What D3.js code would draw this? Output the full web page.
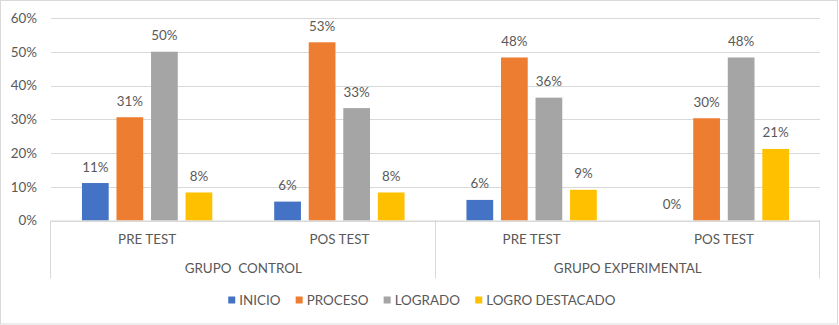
<!DOCTYPE html>
<html>
<head>
<meta charset="utf-8">
<script src="https://cdn.jsdelivr.net/npm/d3@7"></script>
<style>
  body { margin: 0; background: #fff; }
  svg text { font-family: Lato, "Liberation Sans", sans-serif; fill: #595959; }
</style>
</head>
<body>
<script>
// DATA
var groups = ["GRUPO  CONTROL", "GRUPO EXPERIMENTAL"];
var tests = ["PRE TEST", "POS TEST"];
var seriesNames = ["INICIO", "PROCESO", "LOGRADO", "LOGRO DESTACADO"];
var colors = ["#4472C4", "#ED7D31", "#A5A5A5", "#FFC000"];
var inicio = [0.111, 0.056, 0.061, 0.0];
var proceso = [0.306, 0.528, 0.483, 0.303];
var logrado = [0.5, 0.333, 0.364, 0.483];
var logroDestacado = [0.083, 0.083, 0.091, 0.212];
var yTicks = [0, 0.1, 0.2, 0.3, 0.4, 0.5, 0.6];

var svgWidth = 839;
var svgHeight = 325;
var margin = { top: 18, right: 19, bottom: 104.5, left: 51 };
var chartWidth = svgWidth - margin.left - margin.right;
var chartHeight = svgHeight - margin.top - margin.bottom;
var fontSize = "13.4px";

var svg = d3.select("body").append("svg")
  .attr("width", svgWidth)
  .attr("height", svgHeight);

// outer frame
svg.append("rect")
  .attr("x", 0.5).attr("y", 0.5)
  .attr("width", svgWidth - 2).attr("height", svgHeight - 1.5)
  .attr("fill", "#fff").attr("stroke", "#D9D9D9");

var chartGroup = svg.append("g")
  .attr("transform", `translate(${margin.left}, ${margin.top})`);

// categories: one per group/test pair
var categories = [];
groups.forEach(function(g) {
  tests.forEach(function(t) { categories.push(g + "|" + t); });
});
var seriesValues = [inicio, proceso, logrado, logroDestacado];
var data = categories.map(function(c, i) {
  return {
    key: c,
    test: c.split("|")[1],
    values: seriesNames.map(function(s, j) { return { name: s, color: colors[j], value: seriesValues[j][i] }; })
  };
});

// SCALES
var x0 = d3.scaleBand().domain(categories).range([0, chartWidth]).padding(0);
var x1 = d3.scaleBand().domain(seriesNames).range([0, x0.bandwidth()])
  .paddingInner(0.226).paddingOuter(0.896);
var yScale = d3.scaleLinear().domain([0, 0.6]).range([chartHeight, 0]);
var xGroup = d3.scaleBand().domain(groups).range([0, chartWidth]).padding(0);

// GRIDLINES + Y AXIS
var leftAxis = d3.axisLeft(yScale).tickValues(yTicks)
  .tickFormat(d3.format(".0%"))
  .tickSize(-chartWidth).tickPadding(14);
var yAxisG = chartGroup.append("g").call(leftAxis);
yAxisG.select(".domain").remove();
yAxisG.selectAll(".tick line").attr("stroke", "#D9D9D9").attr("shape-rendering", "crispEdges");
yAxisG.selectAll(".tick text").style("font-size", fontSize).attr("fill", "#595959");

// BARS
var catG = chartGroup.selectAll(".cat")
  .data(data).enter().append("g")
  .attr("transform", d => `translate(${x0(d.key)},0)`);

catG.selectAll("rect")
  .data(d => d.values).enter().append("rect")
  .attr("x", d => x1(d.name))
  .attr("y", d => yScale(d.value))
  .attr("width", x1.bandwidth())
  .attr("height", d => chartHeight - yScale(d.value))
  .attr("fill", d => d.color);

// DATA LABELS
catG.selectAll(".lbl")
  .data(d => d.values).enter().append("text")
  .attr("x", d => x1(d.name) + x1.bandwidth() / 2)
  .attr("y", d => yScale(d.value) - 11.5)
  .attr("text-anchor", "middle")
  .style("font-size", fontSize)
  .text(d => d3.format(".0%")(d.value));

// CATEGORY AXIS (two levels)
var axisG = chartGroup.append("g").attr("transform", `translate(0,${chartHeight})`);
axisG.append("line").attr("x1", 0).attr("x2", chartWidth).attr("y1", 0.5).attr("y2", 0.5)
  .attr("stroke", "#D9D9D9");
var sepX = [0].concat(groups.map(g => xGroup(g) + xGroup.bandwidth()));
axisG.selectAll(".sep").data(sepX).enter().append("line")
  .attr("x1", d => Math.round(d) - 0.5).attr("x2", d => Math.round(d) - 0.5)
  .attr("y1", 0).attr("y2", 58)
  .attr("stroke", "#D9D9D9");

axisG.selectAll(".testLbl").data(data).enter().append("text")
  .attr("x", d => x0(d.key) + x0.bandwidth() / 2)
  .attr("y", 23.5)
  .attr("text-anchor", "middle")
  .style("font-size", fontSize)
  .text(d => d.test);

axisG.selectAll(".grpLbl").data(groups).enter().append("text")
  .attr("x", d => xGroup(d) + xGroup.bandwidth() / 2)
  .attr("y", 52)
  .attr("text-anchor", "middle")
  .style("font-size", fontSize)
  .style("white-space", "pre")
  .attr("xml:space", "preserve")
  .text(d => d);

// LEGEND
var legend = svg.append("g").attr("transform", "translate(0,300)");
var items = legend.selectAll(".item").data(seriesNames).enter().append("g");
items.append("rect")
  .attr("width", 7).attr("height", 7).attr("y", -3.5)
  .attr("fill", (d, i) => colors[i]);
items.append("text")
  .attr("x", 11).attr("y", 5)
  .style("font-size", fontSize)
  .text(d => d);
var gap = 15;
var pos = 0;
var offsets = [];
items.each(function() {
  offsets.push(pos);
  pos += this.getBBox().width + gap;
});
var total = pos - gap;
var startX = 422 - total / 2;
items.attr("transform", (d, i) => `translate(${startX + offsets[i]},0)`);
</script>
</body>
</html>
